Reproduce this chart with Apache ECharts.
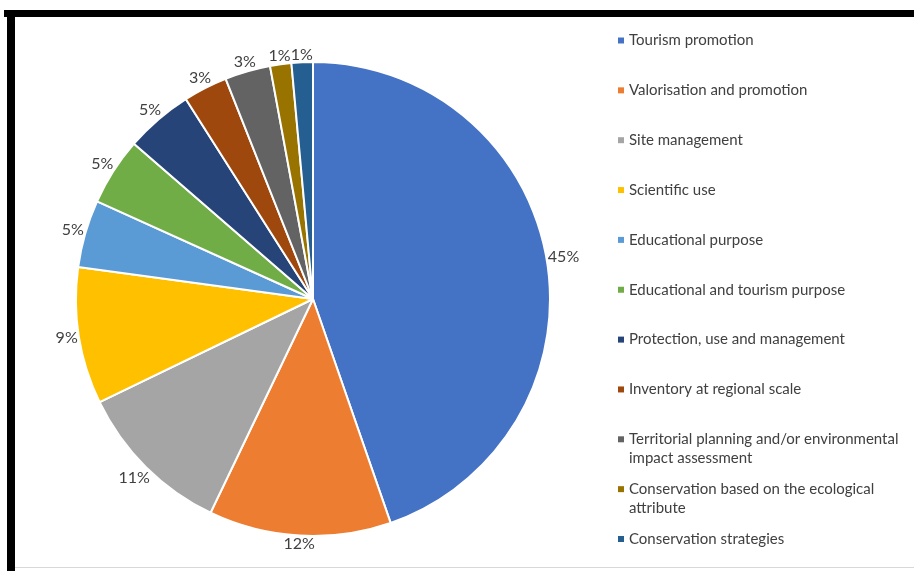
<!DOCTYPE html>
<html>
<head>
<meta charset="utf-8">
<script src="https://cdn.jsdelivr.net/npm/echarts@6/dist/echarts.min.js"></script>
<style>
html,body{margin:0;padding:0;background:#fff;}
#main{width:914px;height:571px;}
</style>
</head>
<body>
<div id="main"></div>
<script>
// Data (shares in %; labels show rounded values)
var categories = [
  'Tourism promotion',
  'Valorisation and promotion',
  'Site management',
  'Scientific use',
  'Educational purpose',
  'Educational and tourism purpose',
  'Protection, use and management',
  'Inventory at regional scale',
  'Territorial planning and/or environmental impact assessment',
  'Conservation based on the ecological attribute',
  'Conservation strategies'
];
var shares = [44.6, 12.4, 10.7, 9.3, 4.6, 4.6, 4.6, 3.0, 3.1, 1.45, 1.45];
var colors = ['#4472C4','#ED7D31','#A5A5A5','#FFC000','#5B9BD5','#70AD47','#264478','#9E480E','#636363','#997300','#255E91'];

var chart = echarts.init(document.getElementById('main'));
var font = 'Lato, "Open Sans", sans-serif';
var textColor = '#404040';

var legends = categories.map(function (name, i) {
  var twoLine = name.length > 40;
  return {
    data: [name],
    orient: 'vertical',
    left: 618,
    top: 31 + i * 49.85,
    padding: 0,
    icon: twoLine ? 'path://M0,0h6v6h-6z M0,25h0' : 'rect',
    itemWidth: 6,
    itemHeight: twoLine ? 25 : 6,
    itemStyle: { borderWidth: 0 },
    selectedMode: false,
    textStyle: {
      fontFamily: font,
      fontSize: 15,
      color: textColor,
      lineHeight: 19,
      width: 282,
      overflow: 'break'
    }
  };
});

var option = {
  backgroundColor: '#ffffff',
  color: colors,
  animation: false,
  legend: legends,
  graphic: [
    { type: 'rect', shape: { x: 4, y: 10, width: 910, height: 7 }, style: { fill: '#000' }, z: 100 },
    { type: 'rect', shape: { x: 7, y: 10, width: 8, height: 561 }, style: { fill: '#000' }, z: 100 },
    { type: 'rect', shape: { x: 15, y: 567, width: 899, height: 1 }, style: { fill: '#d8d8d8' }, z: 100 }
  ],
  series: [{
    type: 'pie',
    center: [313, 299],
    radius: [0, 237],
    startAngle: 90,
    clockwise: true,
    avoidLabelOverlap: false,
    itemStyle: { borderColor: '#ffffff', borderWidth: 2 },
    label: {
      show: true,
      position: 'outside',
      formatter: function (p) { return Math.round(p.value) + '%'; },
      fontFamily: font,
      fontSize: 16,
      color: textColor
    },
    labelLine: { show: true, length: 10, length2: 0, lineStyle: { opacity: 0, width: 0 } },
    labelLayout: function (params) {
      var pts = params.labelLinePoints;
      if (!pts || pts.length < 2) return { hideOverlap: false };
      var p0 = pts[0], p1 = pts[1];
      var dx = p1[0] - p0[0], dy = p1[1] - p0[1];
      var len = Math.sqrt(dx * dx + dy * dy) || 1;
      dx /= len; dy /= len;
      var w = params.labelRect.width, h = params.labelRect.height;
      var ext = Math.abs(dx) * w / 2 + Math.abs(dy) * (h / 2 - 1.5) + 0.5;
      return {
        x: p0[0] + dx * ext,
        y: p0[1] + dy * ext,
        align: 'center',
        verticalAlign: 'middle',
        hideOverlap: false
      };
    },
    emphasis: { disabled: true },
    data: categories.map(function (n, i) { return { name: n, value: shares[i] }; })
  }]
};
chart.setOption(option);
</script>
</body>
</html>
